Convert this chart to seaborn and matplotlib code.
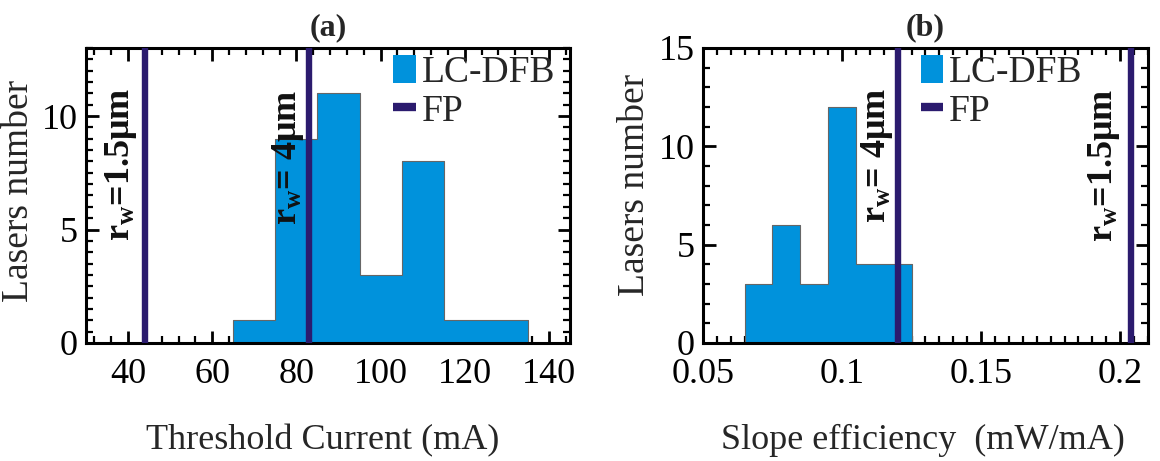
import matplotlib
matplotlib.use("Agg")
import matplotlib.pyplot as plt
from matplotlib.ticker import MultipleLocator
from matplotlib.patches import Patch
from matplotlib.lines import Line2D
import matplotlib.transforms as mtransforms
import pandas as pd
import seaborn as sns

# Threshold current histogram (LC-DFB lasers)
ith_edges = [65, 75, 85, 95, 105, 115, 125, 135]
ith_counts = [1, 9, 11, 3, 8, 1, 1]
# FP reference lasers, threshold current (mA)
ith_fp = [44, 83]
ith_fp_labels = ["r$_\\mathbf{w}$=1.5\u03bcm", "r$_\\mathbf{w}$= 4\u03bcm"]

# Slope efficiency histogram (LC-DFB lasers)
se_edges = [0.065, 0.075, 0.085, 0.095, 0.105, 0.115, 0.125]
se_counts = [3, 6, 3, 12, 4, 4]
# FP reference lasers, slope efficiency (mW/mA)
se_fp = [0.12, 0.204]
se_fp_labels = ["r$_\\mathbf{w}$= 4\u03bcm", "r$_\\mathbf{w}$=1.5\u03bcm"]

BAR = "#0092DC"
FP = "#2B1B6E"
EDGE = "#666666"

sns.set_style("ticks")
plt.rcParams["font.family"] = ["Liberation Serif", "DejaVu Serif"]
plt.rcParams["mathtext.fontset"] = "custom"
plt.rcParams["mathtext.rm"] = "Liberation Serif"
plt.rcParams["mathtext.it"] = "Liberation Serif:italic"
plt.rcParams["mathtext.bf"] = "Liberation Serif:bold"

fig = plt.figure(figsize=(11.6, 4.61), dpi=100)
ax1 = fig.add_axes([0.0741, 0.256, 0.4173, 0.6399])
ax2 = fig.add_axes([0.606, 0.256, 0.3836, 0.6399])


def draw_panel(ax, edges, counts, fp_vals, fp_labels, label_y, label_dx):
    e = [float(v) for v in edges]
    mids = [(a + b) / 2 for a, b in zip(e[:-1], e[1:])]
    df = pd.DataFrame({"value": mids, "count": counts})
    sns.histplot(data=df, x="value", weights="count", bins=e, element="step",
                 fill=True, color=BAR, alpha=1, edgecolor=EDGE, linewidth=0.8,
                 ax=ax)
    for v in fp_vals:
        ax.axvline(v, color=FP, lw=4.6, zorder=3)
    trans = mtransforms.blended_transform_factory(ax.transData, ax.transAxes)
    for v, s, yy, dx in zip(fp_vals, fp_labels, label_y, label_dx):
        ax.annotate(s, xy=(v, yy), xycoords=trans, xytext=(dx, 0),
                    textcoords="offset points", rotation=90, ha="right",
                    va="center", fontsize=26, fontweight="bold",
                    color="#111111")
    for sp in ax.spines.values():
        sp.set_linewidth(2.2)
        sp.set_color("black")
    ax.tick_params(which="both", direction="in", top=True, right=True,
                   labelsize=26, colors="black")
    ax.tick_params(which="major", length=9, width=2, pad=6)
    ax.tick_params(which="minor", length=5, width=1.6)
    ax.tick_params(axis="x", which="major", pad=11)


draw_panel(ax1, ith_edges, ith_counts, ith_fp, ith_fp_labels,
           [0.607, 0.63], [-4.0, -2.5])
ax1.set_xlim(30, 145)
ax1.set_ylim(0, 13)
ax1.xaxis.set_major_locator(MultipleLocator(20))
ax1.xaxis.set_minor_locator(MultipleLocator(4))
ax1.yaxis.set_major_locator(MultipleLocator(5))
ax1.yaxis.set_minor_locator(MultipleLocator(0.5))
ax1.set_xlabel("Threshold Current (mA)", fontsize=26)
ax1.set_ylabel("Lasers number", fontsize=27)
ax1.xaxis.set_label_coords(0.49, -0.275)
ax1.yaxis.set_label_coords(-0.104, 0.515)
ax1.set_title("(a)", fontsize=23, fontweight="bold", pad=9)

draw_panel(ax2, se_edges, se_counts, se_fp, se_fp_labels,
           [0.637, 0.603], [-2.0, -6.5])
ax2.set_xlim(0.05, 0.21)
ax2.set_ylim(0, 15)
ax2.xaxis.set_minor_locator(MultipleLocator(0.005))
ax2.yaxis.set_major_locator(MultipleLocator(5))
ax2.yaxis.set_minor_locator(MultipleLocator(1))
ax2.set_xticks([0.05, 0.1, 0.15, 0.2])
ax2.set_xticklabels(["0.05", "0.1", "0.15", "0.2"])
ax2.set_xlabel("Slope efficiency  (mW/mA)", fontsize=26)
ax2.set_ylabel("Lasers number", fontsize=27)
ax2.xaxis.set_label_coords(0.495, -0.275)
ax2.yaxis.set_label_coords(-0.114, 0.536)
ax2.set_title("(b)", fontsize=23, fontweight="bold", pad=9)

handles = [Patch(facecolor=BAR, edgecolor="none"),
           Line2D([], [], color=FP, lw=6, solid_capstyle="butt")]
for ax, x0 in ((ax1, 0.635), (ax2, 0.49)):
    ax.legend(handles, ["LC-DFB", "FP"], loc="upper left",
              bbox_to_anchor=(x0, 0.975), frameon=False, fontsize=27,
              handlelength=0.6, handleheight=0.75, handletextpad=0.15,
              borderpad=0, borderaxespad=0, labelspacing=0.1)

fig.savefig("out.png", dpi=100, facecolor="white")
